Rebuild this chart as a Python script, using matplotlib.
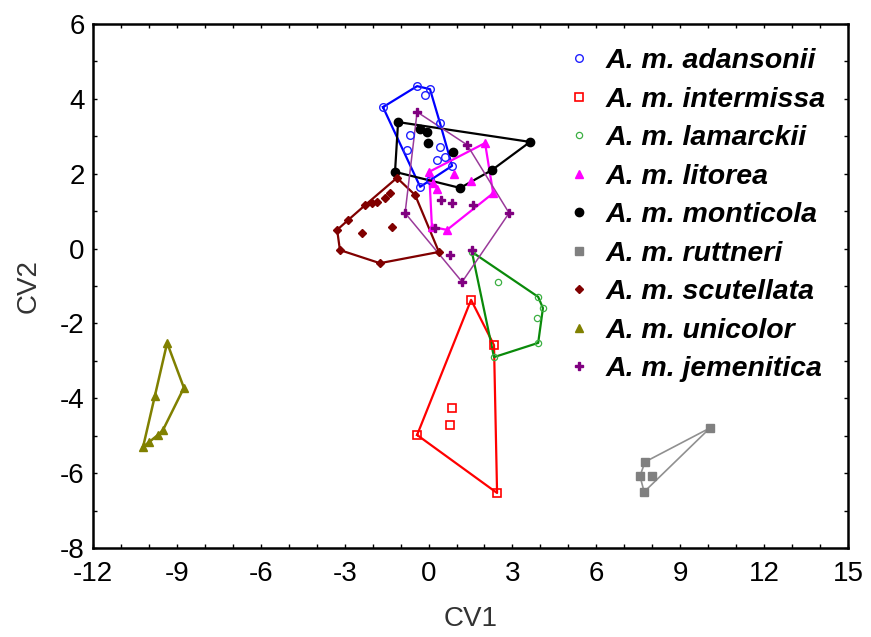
import matplotlib
matplotlib.use("Agg")
import matplotlib.pyplot as plt
from matplotlib.ticker import MultipleLocator

plt.rcParams["axes.unicode_minus"] = False

# canonical scores (CV1, CV2)
adansonii_x = [-1.63, -0.41, 0.05, 0.41, 0.84, -0.30, -0.66, 0.41, 0.30, 0.59, 0.05, -0.77, -0.13]
adansonii_y = [3.78, 4.34, 4.26, 3.35, 2.21, 1.65, 3.03, 2.71, 2.37, 2.45, 1.83, 2.63, 4.10]

intermissa_x = [1.52, 2.34, 2.45, -0.41, 0.84, 0.77]
intermissa_y = [-1.37, -2.58, -6.53, -4.98, -4.26, -4.71]

lamarckii_x = [1.55, 2.48, 3.92, 4.09, 3.88, 3.92, 2.34]
lamarckii_y = [-0.09, -0.89, -1.29, -1.59, -1.85, -2.52, -2.90]

litorea_x = [2.02, 2.31, 0.66, 0.12, 0.02, 0.30, 0.90, 1.50, 0.15]
litorea_y = [2.82, 1.48, 0.50, 0.58, 2.05, 1.60, 2.00, 1.80, 1.75]

monticola_x = [-1.09, -0.05, -0.02, 0.88, 3.63, 2.27, 1.13, -1.20, -0.30]
monticola_y = [3.38, 3.11, 2.82, 2.58, 2.85, 2.10, 1.62, 2.05, 3.20]

ruttneri_x = [10.07, 7.74, 7.56, 7.99, 7.71]
ruttneri_y = [-4.79, -5.70, -6.08, -6.08, -6.50]

scutellata_x = [-1.13, -0.48, -1.38, -1.56, -1.84, -2.02, -2.27, -2.88, -3.27, -2.38, -1.31, -3.17, -1.74, 0.37]
scutellata_y = [1.89, 1.43, 1.48, 1.35, 1.24, 1.22, 1.16, 0.76, 0.50, 0.42, 0.58, -0.04, -0.39, -0.09]

unicolor_x = [-9.35, -8.75, -9.78, -9.50, -9.68, -10.00, -10.21]
unicolor_y = [-2.52, -3.72, -3.94, -4.85, -4.98, -5.17, -5.30]

jemenitica_x = [-0.41, 1.38, 2.88, 1.55, 1.20, -0.84, 0.45, 0.84, 1.59, 0.23, 0.77]
jemenitica_y = [3.65, 2.77, 0.95, -0.04, -0.89, 0.95, 1.30, 1.22, 1.16, 0.55, -0.17]

labels = ["A. m. adansonii", "A. m. intermissa", "A. m. lamarckii", "A. m. litorea",
          "A. m. monticola", "A. m. ruttneri", "A. m. scutellata", "A. m. unicolor",
          "A. m. jemenitica"]


def convex_hull(xs, ys):
    pts = sorted(set(zip(xs, ys)))

    def cross(o, a, b):
        return (a[0] - o[0]) * (b[1] - o[1]) - (a[1] - o[1]) * (b[0] - o[0])

    lower, upper = [], []
    for p in pts:
        while len(lower) >= 2 and cross(lower[-2], lower[-1], p) <= 0:
            lower.pop()
        lower.append(p)
    for p in reversed(pts):
        while len(upper) >= 2 and cross(upper[-2], upper[-1], p) <= 0:
            upper.pop()
        upper.append(p)
    hull = lower[:-1] + upper[:-1]
    hull.append(hull[0])
    return [p[0] for p in hull], [p[1] for p in hull]


# (x, y, line colour, line width, marker, marker kwargs)
groups = [
    (adansonii_x, adansonii_y, "#0000ff", 1.6, "o", dict(mfc="none", mec="#2020ff", ms=5.5, mew=1.0)),
    (intermissa_x, intermissa_y, "#ff0000", 1.6, "s", dict(mfc="none", mec="#ff0000", ms=5.5, mew=1.2)),
    (lamarckii_x, lamarckii_y, "#0a8a0a", 1.6, "o", dict(mfc="none", mec="#3cb043", ms=4.5, mew=0.9)),
    (litorea_x, litorea_y, "#ff00ff", 1.6, "^", dict(mfc="#ff00ff", mec="#ff00ff", ms=6)),
    (monticola_x, monticola_y, "#000000", 1.6, "o", dict(mfc="#000000", mec="#000000", ms=6)),
    (ruttneri_x, ruttneri_y, "#909090", 1.2, "s", dict(mfc="#808080", mec="#808080", ms=6)),
    (scutellata_x, scutellata_y, "#800000", 1.6, "D", dict(mfc="#800000", mec="#800000", ms=4.5)),
    (unicolor_x, unicolor_y, "#808000", 1.8, "^", dict(mfc="#808000", mec="#808000", ms=6)),
    (jemenitica_x, jemenitica_y, "#9a3a9a", 1.1, "P", dict(mfc="#800080", mec="#800080", ms=5.5)),
]

fig = plt.figure(figsize=(8.71, 6.37), dpi=100)
ax = fig.add_axes([0.1068, 0.1397, 0.8668, 0.8226])

for (xs, ys, col, lw, mk, mkw), lab in zip(groups, labels):
    hx, hy = convex_hull(xs, ys)
    ax.plot(hx, hy, color=col, lw=lw, zorder=2)
    ax.plot(xs, ys, linestyle="none", marker=mk, label=lab, zorder=3, **mkw)

ax.set_xlim(-12, 15)
ax.set_ylim(-8, 6)
ax.xaxis.set_major_locator(MultipleLocator(3))
ax.xaxis.set_minor_locator(MultipleLocator(1))
ax.yaxis.set_major_locator(MultipleLocator(2))
ax.yaxis.set_minor_locator(MultipleLocator(1))
ax.tick_params(which="both", direction="in", top=True, right=True, length=3, width=1)
ax.tick_params(axis="x", labelsize=20, pad=9)
ax.tick_params(axis="y", labelsize=20, pad=6)
for lab in ax.get_xticklabels() + ax.get_yticklabels():
    lab.set_family("Liberation Sans")
for sp in ax.spines.values():
    sp.set_linewidth(1.8)

ax.set_xlabel("CV1", fontsize=20, family="Liberation Sans", color="#333333", labelpad=14)
ax.set_ylabel("CV2", fontsize=20, family="Liberation Sans", color="#333333", labelpad=13)

ax.legend(loc="upper left", bbox_to_anchor=(0.602, 0.992), frameon=False,
          handlelength=0.8, handletextpad=0.55, labelspacing=0.44, borderpad=0.2,
          prop=dict(family="Liberation Sans", style="italic", weight="bold", size=20.5))

fig.savefig("out.png", dpi=100)
